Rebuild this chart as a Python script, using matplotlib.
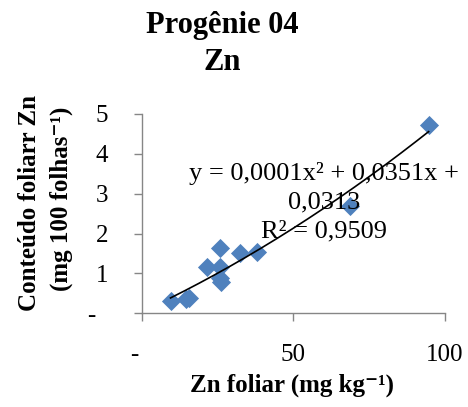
import numpy as np
import matplotlib
matplotlib.use("Agg")
import matplotlib.pyplot as plt

plt.rcParams['font.family'] = ['Liberation Serif', 'DejaVu Serif']

# Data
zn_foliar = [9.5, 14.5, 15.5, 21.4, 25.8, 25.8, 26.3, 25.8, 32.4, 38.0, 68.7, 94.6]
conteudo = [0.31, 0.35, 0.38, 1.17, 1.17, 1.63, 0.79, 0.88, 1.52, 1.54, 2.68, 4.73]

x_ticks = [0, 50, 100]
x_ticklabels = ["-  ", "50", "100"]
y_ticks = [0, 1, 2, 3, 4, 5]
y_ticklabels = ["-  ", "1", "2", "3", "4", "5"]

title_lines = ["Progênie 04", "Zn"]
xlabel = "Zn foliar (mg kg⁻¹)"
ylabel_lines = ["Conteúdo foliarr Zn", "(mg 100 folhas⁻¹)"]
equation = "y = 0,0001x² + 0,0351x +\n0,0313\nR² = 0,9509"

W, H = 468, 407
fig = plt.figure(figsize=(W / 100, H / 100), dpi=100)
ax = fig.add_axes([141.7 / W, 1 - 313.3 / H, (445 - 141.7) / W, (313.3 - 114) / H])

spine_color = "#868686"
for s in ["top", "right"]:
    ax.spines[s].set_visible(False)
for s in ["left", "bottom"]:
    ax.spines[s].set_color(spine_color)
    ax.spines[s].set_linewidth(1.0)

ax.scatter(zn_foliar, conteudo, marker="D", s=95, color="#4F81BD", zorder=3, linewidths=0)

coef = np.polyfit(zn_foliar, conteudo, 2)
xs = np.linspace(min(zn_foliar), max(zn_foliar), 200)
ax.plot(xs, np.polyval(coef, xs), color="black", linewidth=1.2, zorder=4)

ax.set_xlim(0, 100)
ax.set_ylim(0, 5)
ax.set_xticks(x_ticks)
ax.set_xticklabels(x_ticklabels)
ax.set_yticks(y_ticks)
ax.set_yticklabels(y_ticklabels)
ax.tick_params(axis="both", direction="out", length=6, width=1.0, color=spine_color,
               labelsize=18, pad=16)
ax.tick_params(axis="y", pad=18)

fig.text(324 / W, 1 - 202 / H, equation, fontsize=19, ha="center", va="center",
         multialignment="center", linespacing=1.4, zorder=5)

fig.text(222.5 / W, 1 - 33 / H, title_lines[0], fontsize=22, fontweight="bold",
         ha="center", va="baseline")
fig.text(222.5 / W, 1 - 70 / H, title_lines[1], fontsize=22, fontweight="bold",
         ha="center", va="baseline")

fig.text(292 / W, 1 - 385 / H, xlabel, fontsize=18, fontweight="bold", ha="center", va="center")
fig.text(30 / W, 1 - 203 / H, ylabel_lines[0], fontsize=18, fontweight="bold",
         ha="center", va="center", rotation=90)
fig.text(61 / W, 1 - 199 / H, ylabel_lines[1], fontsize=18, fontweight="bold",
         ha="center", va="center", rotation=90)

fig.savefig("out.png", dpi=100)
